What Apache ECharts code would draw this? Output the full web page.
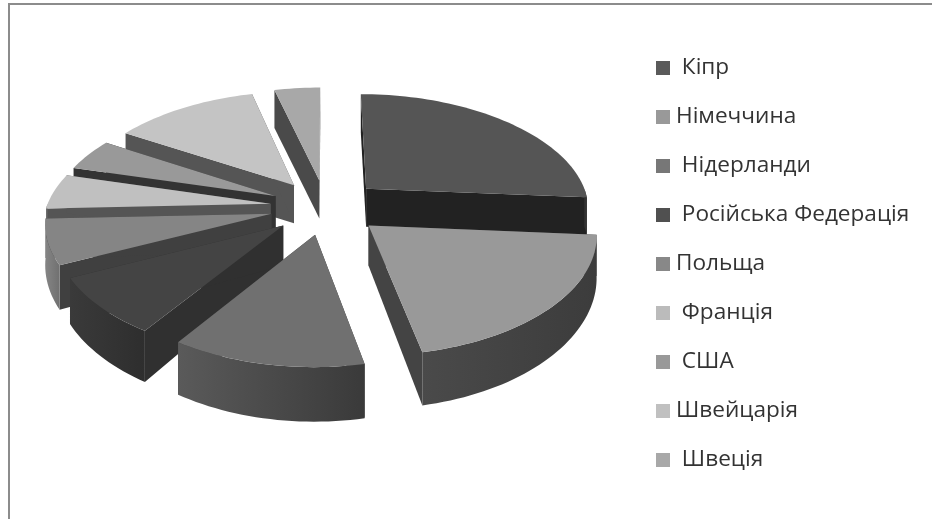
<!DOCTYPE html>
<html>
<head>
<meta charset="utf-8">
<script src="https://cdn.jsdelivr.net/npm/echarts@6/dist/echarts.min.js"></script>
<style>
html,body{margin:0;padding:0;background:#fff;}
#chart{width:932px;height:519px;}
</style>
</head>
<body>
<div id="chart"></div>
<script>
// leading spaces are as in the original legend
const categories = [" Кіпр", "Німеччина", " Нідерланди", " Російська Федерація", "Польща", " Франція", " США", "Швейцарія", " Швеція"];
// shares in %
const values = [26.2, 20.4, 12.6, 8.4, 6.5, 5.0, 4.5, 12.2, 3.9];

const topColors = ["#555555", "#999999", "#707070", "#444444", "#858585", "#c0c0c0", "#999999", "#c4c4c4", "#a8a8a8"];
const cutColors = ["#222222", "#444444", "#3a3a3a", "#303030", "#404040", "#555555", "#333333", "#555555", "#4a4a4a"];
const wallColors = [["#333333", "#333333"], ["#4a4a4a", "#3c3c3c"], ["#5a5a5a", "#3a3a3a"], ["#3a3a3a", "#2e2e2e"], ["#858585", "#707070"], ["#666666", "#666666"], ["#444444", "#444444"], ["#555555", "#555555"], ["#555555", "#555555"]];
const legendColors = ["#5a5a5a", "#999999", "#777777", "#505050", "#888888", "#bbbbbb", "#999999", "#c0c0c0", "#a8a8a8"];

const CX = 326, CY = 207, RX = 224, RY = 110, DEPTH = 38, EXPLODE = 0.25;

const total = values.reduce((a, b) => a + b, 0);
let sum = 0;
const slices = values.map(v => {
    let start = sum / total * Math.PI * 2;
    sum += v;
    let end = sum / total * Math.PI * 2;
    return { start: start, end: end, mid: (start + end) / 2 };
});

/* disc coordinates -> screen, z is 0 on top and 1 at the bottom */
function project(u, v, z) {
    let sx = v >= 0 ? 1 / (1 - 0.08 * v) : 1 / (1 - 0.156 * v);
    let sy = v >= 0 ? 1 / (1 - 0.116 * v) : 1 / (1 - 0.12 * v);
    let sd = v >= 0 ? 1 + 0.35 * v : 1;
    return [CX + RX * u * sx, CY + RY * v * sy + DEPTH * sd * z];
}

function rim(sl, a, z) {
    let ux = EXPLODE * Math.sin(sl.mid), vy = -EXPLODE * Math.cos(sl.mid);
    return project(ux + Math.sin(a), vy - Math.cos(a), z);
}

function apex(sl, z) {
    return project(EXPLODE * Math.sin(sl.mid), -EXPLODE * Math.cos(sl.mid), z);
}

function arc(sl, from, to, z) {
    let pts = [];
    let n = Math.max(2, Math.ceil((to - from) / 0.03));
    for (let i = 0; i <= n; i++) {
        pts.push(rim(sl, from + (to - from) * i / n, z));
    }
    return pts;
}

function polygon(points, fill) {
    return { type: "polygon", shape: { points: points }, style: { fill: fill, stroke: null } };
}

function renderSlice(idx) {
    return function () {
        let sl = slices[idx];
        let children = [];
        /* cut faces */
        [sl.start, sl.end].forEach(a => {
            children.push(polygon([apex(sl, 0), rim(sl, a, 0), rim(sl, a, 1), apex(sl, 1)], cutColors[idx]));
        });
        /* outer wall, only the front half shows */
        let from = Math.max(sl.start, Math.PI / 2), to = Math.min(sl.end, Math.PI * 1.5);
        if (to > from) {
            let wall = arc(sl, from, to, 0).concat(arc(sl, from, to, 1).reverse());
            children.push(polygon(wall, new echarts.graphic.LinearGradient(0, 0, 1, 0, [
                { offset: 0, color: wallColors[idx][0] },
                { offset: 1, color: wallColors[idx][1] }
            ])));
        }
        /* top */
        children.push(polygon([apex(sl, 0)].concat(arc(sl, sl.start, sl.end, 0)), topColors[idx]));
        return { type: "group", children: children };
    };
}

/* back slices first */
const order = slices.map((s, i) => i).sort((a, b) => Math.cos(slices[b].mid) - Math.cos(slices[a].mid));

let myChart = echarts.init(document.getElementById("chart"));
myChart.setOption({
    animation: false,
    backgroundColor: "#ffffff",
    graphic: [{
        type: "polyline",
        silent: true,
        shape: { points: [[9, 519], [9, 4], [932, 4]] },
        style: { stroke: "#8c8c8c", lineWidth: 2, fill: null }
    }],
    legend: {
        orient: "vertical",
        left: 651,
        top: 49,
        itemWidth: 14,
        itemHeight: 14,
        itemGap: 21,
        icon: "rect",
        data: categories,
        selectedMode: false,
        textStyle: { fontFamily: "Open Sans", fontSize: 22.6, color: "#333333", padding: [0, 0, 0, 1], lineHeight: 28 }
    },
    series: categories.map((name, idx) => ({
        type: "custom",
        name: name,
        coordinateSystem: "none",
        silent: true,
        z: 2 + order.indexOf(idx),
        itemStyle: { color: legendColors[idx] },
        data: [[values[idx]]],
        renderItem: renderSlice(idx)
    }))
});
</script>
</body>
</html>
